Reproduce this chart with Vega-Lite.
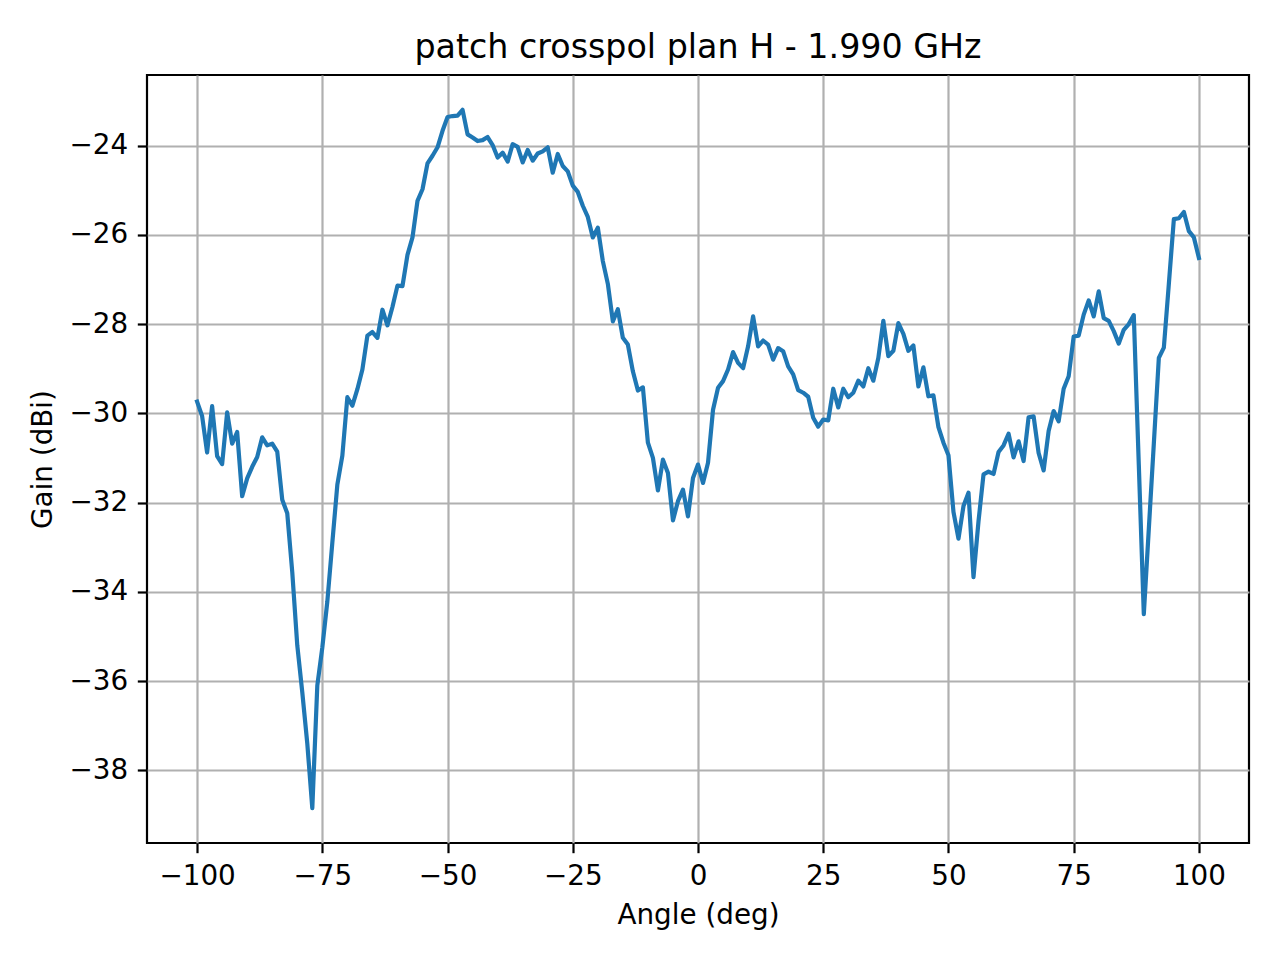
{
  "$schema": "https://vega.github.io/schema/vega-lite/v6.json",
  "width": 1102,
  "height": 768,
  "autosize": {"type": "none"},
  "padding": {"left": 147, "top": 75, "right": 31, "bottom": 117},
  "background": "white",
  "title": {"text": "patch crosspol plan H - 1.990 GHz", "font": "DejaVu Sans", "fontSize": 33.3, "fontWeight": "normal", "color": "black", "offset": 10, "anchor": "middle"},
  "config": {
    "view": {"stroke": "black", "strokeWidth": 2.2},
    "axis": {
      "domain": false,
      "grid": true,
      "gridColor": "#b0b0b0",
      "gridWidth": 2.2,
      "gridOpacity": 1,
      "tickColor": "black",
      "tickWidth": 2.2,
      "tickSize": 9.7,
      "labelFont": "DejaVu Sans",
      "labelFontSize": 27.8,
      "labelColor": "black",
      "labelPadding": 9.7,
      "titleFont": "DejaVu Sans",
      "titleFontSize": 27.8,
      "titleFontWeight": "normal",
      "titleColor": "black",
      "titlePadding": 11
    }
  },
  "data": {"values": [
    {"angle": -100, "gain": -29.74}, {"angle": -99, "gain": -30.06}, {"angle": -98, "gain": -30.88}, {"angle": -97, "gain": -29.84},
    {"angle": -96, "gain": -30.96}, {"angle": -95, "gain": -31.14}, {"angle": -94, "gain": -29.98}, {"angle": -93, "gain": -30.68},
    {"angle": -92, "gain": -30.42}, {"angle": -91, "gain": -31.86}, {"angle": -90, "gain": -31.46}, {"angle": -89, "gain": -31.2},
    {"angle": -88, "gain": -30.98}, {"angle": -87, "gain": -30.54}, {"angle": -86, "gain": -30.72}, {"angle": -85, "gain": -30.68},
    {"angle": -84, "gain": -30.86}, {"angle": -83, "gain": -31.94}, {"angle": -82, "gain": -32.24}, {"angle": -81, "gain": -33.56},
    {"angle": -80, "gain": -35.2}, {"angle": -79, "gain": -36.25}, {"angle": -78, "gain": -37.4}, {"angle": -77, "gain": -38.85},
    {"angle": -76, "gain": -36.1}, {"angle": -75, "gain": -35.25}, {"angle": -74, "gain": -34.22}, {"angle": -73, "gain": -32.9},
    {"angle": -72, "gain": -31.6}, {"angle": -71, "gain": -30.95}, {"angle": -70, "gain": -29.64}, {"angle": -69, "gain": -29.83},
    {"angle": -68, "gain": -29.46}, {"angle": -67, "gain": -29.02}, {"angle": -66, "gain": -28.26}, {"angle": -65, "gain": -28.18},
    {"angle": -64, "gain": -28.31}, {"angle": -63, "gain": -27.68}, {"angle": -62, "gain": -28.03}, {"angle": -61, "gain": -27.62},
    {"angle": -60, "gain": -27.14}, {"angle": -59, "gain": -27.15}, {"angle": -58, "gain": -26.45}, {"angle": -57, "gain": -26.06},
    {"angle": -56, "gain": -25.24}, {"angle": -55, "gain": -24.98}, {"angle": -54, "gain": -24.4}, {"angle": -53, "gain": -24.23},
    {"angle": -52, "gain": -24.04}, {"angle": -51, "gain": -23.67}, {"angle": -50, "gain": -23.36}, {"angle": -49, "gain": -23.34},
    {"angle": -48, "gain": -23.33}, {"angle": -47, "gain": -23.2}, {"angle": -46, "gain": -23.75}, {"angle": -45, "gain": -23.82},
    {"angle": -44, "gain": -23.9}, {"angle": -43, "gain": -23.88}, {"angle": -42, "gain": -23.81}, {"angle": -41, "gain": -23.99},
    {"angle": -40, "gain": -24.27}, {"angle": -39, "gain": -24.16}, {"angle": -38, "gain": -24.36}, {"angle": -37, "gain": -23.97},
    {"angle": -36, "gain": -24.03}, {"angle": -35, "gain": -24.38}, {"angle": -34, "gain": -24.1}, {"angle": -33, "gain": -24.34},
    {"angle": -32, "gain": -24.18}, {"angle": -31, "gain": -24.13}, {"angle": -30, "gain": -24.04}, {"angle": -29, "gain": -24.61},
    {"angle": -28, "gain": -24.19}, {"angle": -27, "gain": -24.46}, {"angle": -26, "gain": -24.58}, {"angle": -25, "gain": -24.9},
    {"angle": -24, "gain": -25.04}, {"angle": -23, "gain": -25.35}, {"angle": -22, "gain": -25.6}, {"angle": -21, "gain": -26.06},
    {"angle": -20, "gain": -25.84}, {"angle": -19, "gain": -26.59}, {"angle": -18, "gain": -27.1}, {"angle": -17, "gain": -27.94},
    {"angle": -16, "gain": -27.67}, {"angle": -15, "gain": -28.31}, {"angle": -14, "gain": -28.46}, {"angle": -13, "gain": -29.06},
    {"angle": -12, "gain": -29.49}, {"angle": -11, "gain": -29.42}, {"angle": -10, "gain": -30.66}, {"angle": -9, "gain": -31.0},
    {"angle": -8, "gain": -31.73}, {"angle": -7, "gain": -31.04}, {"angle": -6, "gain": -31.34}, {"angle": -5, "gain": -32.4},
    {"angle": -4, "gain": -31.97}, {"angle": -3, "gain": -31.71}, {"angle": -2, "gain": -32.31}, {"angle": -1, "gain": -31.45},
    {"angle": 0, "gain": -31.15}, {"angle": 1, "gain": -31.56}, {"angle": 2, "gain": -31.11}, {"angle": 3, "gain": -29.92},
    {"angle": 4, "gain": -29.43}, {"angle": 5, "gain": -29.28}, {"angle": 6, "gain": -29.02}, {"angle": 7, "gain": -28.63},
    {"angle": 8, "gain": -28.87}, {"angle": 9, "gain": -28.99}, {"angle": 10, "gain": -28.5}, {"angle": 11, "gain": -27.83},
    {"angle": 12, "gain": -28.5}, {"angle": 13, "gain": -28.37}, {"angle": 14, "gain": -28.46}, {"angle": 15, "gain": -28.8},
    {"angle": 16, "gain": -28.54}, {"angle": 17, "gain": -28.61}, {"angle": 18, "gain": -28.95}, {"angle": 19, "gain": -29.13},
    {"angle": 20, "gain": -29.48}, {"angle": 21, "gain": -29.54}, {"angle": 22, "gain": -29.63}, {"angle": 23, "gain": -30.1},
    {"angle": 24, "gain": -30.3}, {"angle": 25, "gain": -30.14}, {"angle": 26, "gain": -30.16}, {"angle": 27, "gain": -29.45},
    {"angle": 28, "gain": -29.87}, {"angle": 29, "gain": -29.45}, {"angle": 30, "gain": -29.64}, {"angle": 31, "gain": -29.54},
    {"angle": 32, "gain": -29.27}, {"angle": 33, "gain": -29.4}, {"angle": 34, "gain": -28.99}, {"angle": 35, "gain": -29.27},
    {"angle": 36, "gain": -28.76}, {"angle": 37, "gain": -27.93}, {"angle": 38, "gain": -28.72}, {"angle": 39, "gain": -28.6},
    {"angle": 40, "gain": -27.98}, {"angle": 41, "gain": -28.22}, {"angle": 42, "gain": -28.6}, {"angle": 43, "gain": -28.48},
    {"angle": 44, "gain": -29.4}, {"angle": 45, "gain": -28.97}, {"angle": 46, "gain": -29.62}, {"angle": 47, "gain": -29.6},
    {"angle": 48, "gain": -30.31}, {"angle": 49, "gain": -30.66}, {"angle": 50, "gain": -30.94}, {"angle": 51, "gain": -32.21},
    {"angle": 52, "gain": -32.81}, {"angle": 53, "gain": -32.08}, {"angle": 54, "gain": -31.78}, {"angle": 55, "gain": -33.67},
    {"angle": 56, "gain": -32.42}, {"angle": 57, "gain": -31.37}, {"angle": 58, "gain": -31.31}, {"angle": 59, "gain": -31.36},
    {"angle": 60, "gain": -30.87}, {"angle": 61, "gain": -30.72}, {"angle": 62, "gain": -30.46}, {"angle": 63, "gain": -30.99},
    {"angle": 64, "gain": -30.63}, {"angle": 65, "gain": -31.07}, {"angle": 66, "gain": -30.09}, {"angle": 67, "gain": -30.07},
    {"angle": 68, "gain": -30.89}, {"angle": 69, "gain": -31.28}, {"angle": 70, "gain": -30.4}, {"angle": 71, "gain": -29.95},
    {"angle": 72, "gain": -30.18}, {"angle": 73, "gain": -29.45}, {"angle": 74, "gain": -29.17}, {"angle": 75, "gain": -28.28},
    {"angle": 76, "gain": -28.26}, {"angle": 77, "gain": -27.79}, {"angle": 78, "gain": -27.47}, {"angle": 79, "gain": -27.83},
    {"angle": 80, "gain": -27.27}, {"angle": 81, "gain": -27.87}, {"angle": 82, "gain": -27.93}, {"angle": 83, "gain": -28.16},
    {"angle": 84, "gain": -28.44}, {"angle": 85, "gain": -28.13}, {"angle": 86, "gain": -28.0}, {"angle": 87, "gain": -27.8},
    {"angle": 88, "gain": -31.15}, {"angle": 89, "gain": -34.5}, {"angle": 90, "gain": -32.59}, {"angle": 91, "gain": -30.68},
    {"angle": 92, "gain": -28.76}, {"angle": 93, "gain": -28.53}, {"angle": 94, "gain": -27.1}, {"angle": 95, "gain": -25.65},
    {"angle": 96, "gain": -25.63}, {"angle": 97, "gain": -25.49}, {"angle": 98, "gain": -25.92}, {"angle": 99, "gain": -26.06},
    {"angle": 100, "gain": -26.52}
  ]},
  "mark": {"type": "line", "color": "#1f77b4", "strokeWidth": 4.2, "strokeJoin": "round", "strokeCap": "square"},
  "encoding": {
    "x": {"field": "angle", "type": "quantitative", "scale": {"domain": [-110, 110], "nice": false, "zero": false}, "axis": {"values": [-100, -75, -50, -25, 0, 25, 50, 75, 100], "title": "Angle (deg)"}},
    "y": {"field": "gain", "type": "quantitative", "scale": {"domain": [-39.63, -22.42], "nice": false, "zero": false}, "axis": {"values": [-38, -36, -34, -32, -30, -28, -26, -24], "title": "Gain (dBi)"}}
  }
}
